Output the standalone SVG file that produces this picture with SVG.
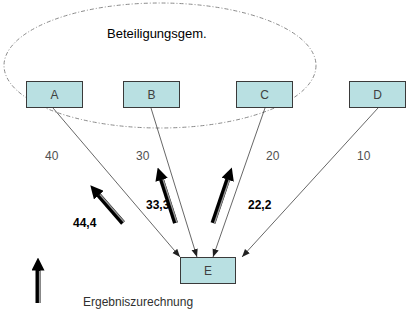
<svg xmlns="http://www.w3.org/2000/svg" width="415" height="312" viewBox="0 0 415 312">
<style>
text{font-family:"Liberation Sans",Arial,sans-serif}
.box{fill:#b9e0e2;stroke:#3a3a3a;stroke-width:1}
.bl{font-size:12px;fill:#404040;text-anchor:middle}
.num{font-size:12px;fill:#505050}
.res{font-size:12px;font-weight:bold;fill:#000}
.thin{stroke:#404040;stroke-width:0.8;fill:none}
.fat{stroke:#000;stroke-width:5;fill:none}
.stripe{stroke:#9a9a9a;stroke-width:1.4;fill:none}
</style>
<defs>
<marker id="sm" markerUnits="userSpaceOnUse" markerWidth="8" markerHeight="8" viewBox="0 0 8 8" refX="8" refY="4" orient="auto">
<path d="M0,0.8 L8,4 L0,7.2 Z" fill="#202020"/>
</marker>
<marker id="big" markerUnits="userSpaceOnUse" markerWidth="13" markerHeight="13" viewBox="0 0 13 13" refX="0.5" refY="6.5" orient="auto">
<path d="M0,0 L13,6.5 L0,13 Z" fill="#000"/>
</marker>
</defs>
<rect width="415" height="312" fill="#fff"/>
<g id="group-ellipse">
<ellipse cx="160" cy="65.5" rx="156" ry="62.5" fill="none" stroke="#8a8a8a" stroke-width="1" stroke-dasharray="4 2 1 2"/>
<text x="107" y="38" font-size="13" fill="#000">Beteiligungsgem.</text>
</g>
<g id="connectors">
<line class="thin" x1="53" y1="108" x2="180" y2="257" marker-end="url(#sm)"/>
<line class="thin" x1="151" y1="108" x2="197" y2="257" marker-end="url(#sm)"/>
<line class="thin" x1="265" y1="108" x2="213" y2="257" marker-end="url(#sm)"/>
<line class="thin" x1="378" y1="108" x2="242" y2="257" marker-end="url(#sm)"/>
</g>
<g id="node-A"><rect class="box" x="26.5" y="81.5" width="56" height="26"/><text class="bl" x="54.5" y="99">A</text></g>
<g id="node-B"><rect class="box" x="123.5" y="81.5" width="56" height="26"/><text class="bl" x="151.5" y="99">B</text></g>
<g id="node-C"><rect class="box" x="236.5" y="81.5" width="56" height="26"/><text class="bl" x="264.5" y="99">C</text></g>
<g id="node-D"><rect class="box" x="349.5" y="81.5" width="56" height="26"/><text class="bl" x="377.5" y="99">D</text></g>
<g id="node-E"><rect class="box" x="180.5" y="257.5" width="55" height="26"/><text class="bl" x="208" y="275">E</text></g>
<g id="result-arrows">
<line class="fat" x1="123" y1="223" x2="98.5" y2="194.8" marker-end="url(#big)"/>
<line class="stripe" x1="124.1" y1="222" x2="100" y2="194.5"/>
<line class="fat" x1="175.5" y1="223" x2="161.5" y2="179.4" marker-end="url(#big)"/>
<line class="stripe" x1="176.9" y1="222.5" x2="163.1" y2="179.5"/>
<line class="fat" x1="213" y1="223" x2="227.8" y2="179.3" marker-end="url(#big)"/>
<line class="stripe" x1="214.4" y1="223.5" x2="229.2" y2="180"/>
<line class="fat" x1="38" y1="303" x2="38" y2="270" marker-end="url(#big)"/>
<line class="stripe" x1="39.6" y1="303" x2="39.6" y2="271"/>
</g>
<g id="labels">
<text class="num" x="45" y="160">40</text>
<text class="num" x="136" y="160">30</text>
<text class="num" x="266" y="160">20</text>
<text class="num" x="357" y="160">10</text>
<text class="res" x="73" y="227">44,4</text>
<text class="res" x="146" y="209">33,3</text>
<text class="res" x="248" y="209">22,2</text>
<text x="83" y="306" font-size="12" fill="#303030">Ergebniszurechnung</text>
</g>
</svg>
